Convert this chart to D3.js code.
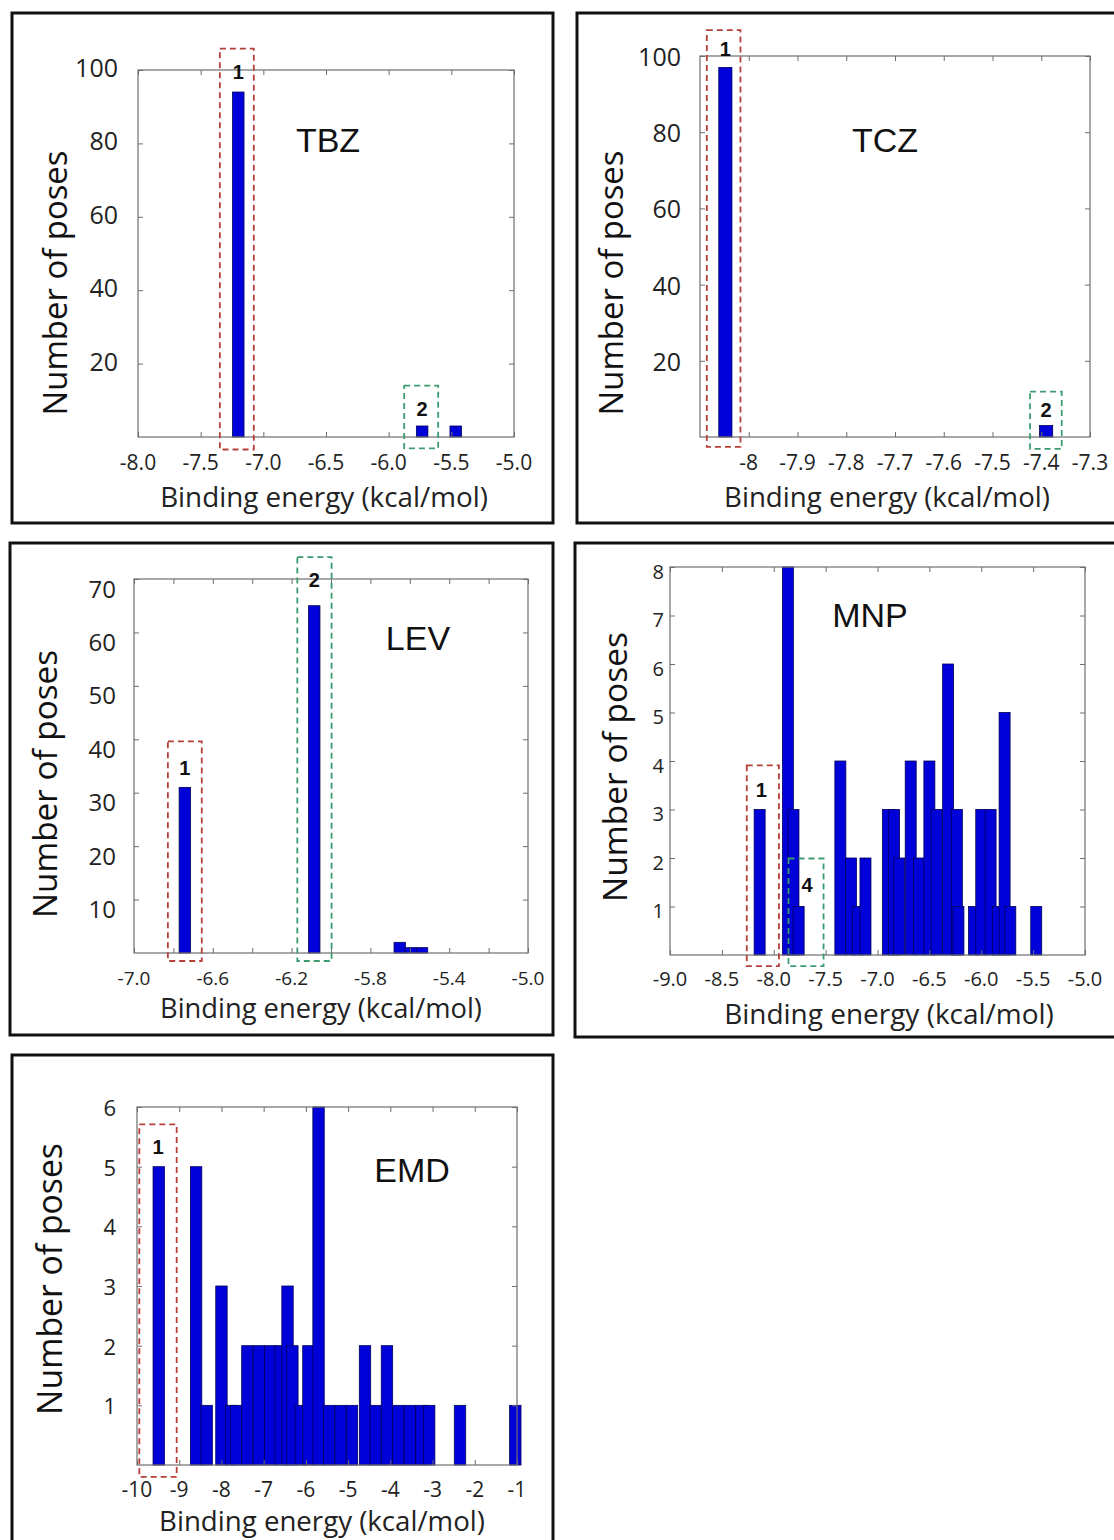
<!DOCTYPE html>
<html><head><meta charset="utf-8">
<script src="https://cdn.jsdelivr.net/npm/d3@7"></script>
<style>html,body{margin:0;padding:0;background:#fff;} svg{display:block;}</style>
</head><body>
<svg id="fig" width="1114" height="1540"></svg>
<script>
// ---------------- data ----------------
const tbzEnergy = [-7.20, -5.733, -5.465];
const tbzCount  = [94, 3, 3];
const tczEnergy = [-8.048, -7.39];
const tczCount  = [97, 3];
const levEnergy = [-6.742, -6.085, -5.651, -5.595, -5.538];
const levCount  = [31, 65, 2, 1, 1];
const mnpEnergy = [-8.136, -7.863, -7.81, -7.76, -7.358, -7.255, -7.19, -7.116, -6.90, -6.84, -6.79, -6.68, -6.60, -6.50, -6.43, -6.32, -6.235, -6.22, -6.07, -6.00, -5.91, -5.84, -5.775, -5.72, -5.47];
const mnpCount  = [3, 8, 3, 1, 4, 2, 1, 2, 3, 3, 2, 4, 2, 4, 3, 6, 3, 1, 1, 3, 3, 1, 5, 1, 1];
const emdEnergy = [-9.485, -8.60, -8.35, -8.00, -7.77, -7.65, -7.385, -7.115, -6.845, -6.60, -6.435, -6.32, -6.12, -5.94, -5.70, -5.45, -5.18, -4.91, -4.60, -4.35, -4.08, -3.81, -3.54, -3.27, -3.08, -2.35, -1.04];
const emdCount  = [5, 5, 1, 3, 1, 1, 2, 2, 2, 2, 3, 2, 1, 2, 6, 1, 1, 1, 2, 1, 2, 1, 1, 1, 1, 1, 1];

const tbzXTicks  = [-8.0, -7.5, -7.0, -6.5, -6.0, -5.5, -5.0];
const tbzXLabels = ["-8.0", "-7.5", "-7.0", "-6.5", "-6.0", "-5.5", "-5.0"];
const tbzYTicks  = [20, 40, 60, 80, 100];
const tczXTicks  = [-8.0, -7.9, -7.8, -7.7, -7.6, -7.5, -7.4, -7.3];
const tczXLabels = ["-8", "-7.9", "-7.8", "-7.7", "-7.6", "-7.5", "-7.4", "-7.3"];
const tczYTicks  = [20, 40, 60, 80, 100];
const levXTicks  = [-7.0, -6.8, -6.6, -6.4, -6.2, -6.0, -5.8, -5.6, -5.4, -5.2, -5.0];
const levXLabels = ["-7.0", "", "-6.6", "", "-6.2", "", "-5.8", "", "-5.4", "", "-5.0"];
const levYTicks  = [10, 20, 30, 40, 50, 60, 70];
const mnpXTicks  = [-9.0, -8.5, -8.0, -7.5, -7.0, -6.5, -6.0, -5.5, -5.0];
const mnpXLabels = ["-9.0", "-8.5", "-8.0", "-7.5", "-7.0", "-6.5", "-6.0", "-5.5", "-5.0"];
const mnpYTicks  = [1, 2, 3, 4, 5, 6, 7, 8];
const emdXTicks  = [-10, -9, -8, -7, -6, -5, -4, -3, -2, -1];
const emdXLabels = ["-10", "-9", "-8", "-7", "-6", "-5", "-4", "-3", "-2", "-1"];
const emdYTicks  = [1, 2, 3, 4, 5, 6];

const titles = ["TBZ", "TCZ", "LEV", "MNP", "EMD"];
const xAxisTitle = "Binding energy (kcal/mol)";
const yAxisTitle = "Number of poses";

// highlighted clusters (label, colour, energy range, count range, label anchor)
const tbzBoxes = [{n:"1", c:"red", x0:-7.347, x1:-7.076, y0:-3.4, y1:105.8, lx:-7.20, ly:99.4},
                  {n:"2", c:"green", x0:-5.876, x1:-5.605, y0:-3.1, y1:14.0, lx:-5.733, ly:7.6}];
const tczBoxes = [{n:"1", c:"red", x0:-8.086, x1:-8.017, y0:-2.6, y1:106.8, lx:-8.048, ly:101.8},
                  {n:"2", c:"green", x0:-7.423, x1:-7.358, y0:-3.1, y1:11.9, lx:-7.39, ly:7.0}];
const levBoxes = [{n:"1", c:"red", x0:-6.828, x1:-6.656, y0:-1.5, y1:39.6, lx:-6.742, ly:34.6},
                  {n:"2", c:"green", x0:-6.171, x1:-5.997, y0:-1.5, y1:74.1, lx:-6.085, ly:69.9}];
const mnpBoxes = [{n:"1", c:"red", x0:-8.26, x1:-7.95, y0:-0.23, y1:3.91, lx:-8.12, ly:3.4},
                  {n:"4", c:"green", x0:-7.858, x1:-7.52, y0:-0.23, y1:1.99, lx:-7.68, ly:1.44}];
const emdBoxes = [{n:"1", c:"red", x0:-9.945, x1:-9.06, y0:-0.2, y1:5.71, lx:-9.5, ly:5.33}];

// ---------------- layout ----------------
const panels = [
  {title:titles[0], energy:tbzEnergy, count:tbzCount, xTicks:tbzXTicks, xLabels:tbzXLabels, yTicks:tbzYTicks, boxes:tbzBoxes,
   frame:[12,13,553,523], plot:[138,70,514,437], xDomain:[-8,-5], yDomain:[0,100], barW:0.092,
   titlePos:[328,140], xLab:[324,496,328], yLab:[54,283,265], xTickY:462, xTickFont:21, yTickX:118, yTickDy:-3, yTickFont:25},
  {title:titles[1], energy:tczEnergy, count:tczCount, xTicks:tczXTicks, xLabels:tczXLabels, yTicks:tczYTicks, boxes:tczBoxes,
   frame:[577,13,1130,523], plot:[700,56,1090,437], xDomain:[-8.1,-7.3], yDomain:[0,100], barW:0.027,
   titlePos:[885,140], xLab:[887,496,326], yLab:[610,283,265], xTickY:462, xTickFont:21, yTickX:681, yTickDy:0, yTickFont:25},
  {title:titles[2], energy:levEnergy, count:levCount, xTicks:levXTicks, xLabels:levXLabels, yTicks:levYTicks, boxes:levBoxes,
   frame:[10,543,553,1035], plot:[134,579,528,953], xDomain:[-7,-5], yDomain:[0,70], barW:0.058,
   titlePos:[418,638], xLab:[321,1007,322], yLab:[44,784,268], xTickY:978, xTickFont:19, yTickX:116, yTickDy:9, yTickFont:24},
  {title:titles[3], energy:mnpEnergy, count:mnpCount, xTicks:mnpXTicks, xLabels:mnpXLabels, yTicks:mnpYTicks, boxes:mnpBoxes,
   frame:[575,543,1130,1037], plot:[670,567,1085,955], xDomain:[-9,-5], yDomain:[0,8], barW:0.106,
   titlePos:[870,615], xLab:[889,1013,330], yLab:[614,767,270], xTickY:978, xTickFont:20, yTickX:664, yTickDy:4, yTickFont:20},
  {title:titles[4], energy:emdEnergy, count:emdCount, xTicks:emdXTicks, xLabels:emdXLabels, yTicks:emdYTicks, boxes:emdBoxes,
   frame:[12,1055,553,1570], plot:[137,1107,517,1465], xDomain:[-10,-1], yDomain:[0,6], barW:0.27,
   titlePos:[412,1170], xLab:[322,1520,326], yLab:[49,1279,272], xTickY:1489, xTickFont:21, yTickX:116, yTickDy:0, yTickFont:22}
];

const BAR_FILL = "#0000d8", BAR_EDGE = "#00005c";
const BOX_COL = {red:"#b5403a", green:"#3c9c70"};
const AXIS_COL = "#6e6e6e";
const LABEL_FONT = "'Open Sans', 'DejaVu Sans', sans-serif";
const TITLE_FONT = "'Liberation Sans', Arial, sans-serif";

const svg = d3.select("#fig");
svg.append("rect").attr("width",1114).attr("height",1540).attr("fill","#fff");

function fitWidth(t, w){
  const L = t.node().getComputedTextLength();
  if (L > 0) t.attr("font-size", parseFloat(t.attr("font-size")) * w / L);
}

panels.forEach(p => {
  const g = svg.append("g");
  const [fx0,fy0,fx1,fy1] = p.frame;
  const [px0,py0,px1,py1] = p.plot;
  const x = d3.scaleLinear().domain(p.xDomain).range([px0,px1]);
  const y = d3.scaleLinear().domain(p.yDomain).range([py1,py0]);

  // bars
  const data = p.energy.map((e,i) => ({e:e, c:p.count[i]}));
  g.append("g").selectAll("rect").data(data).enter().append("rect")
    .attr("x", d => x(d.e - p.barW/2))
    .attr("width", d => x(d.e + p.barW/2) - x(d.e - p.barW/2))
    .attr("y", d => y(d.c))
    .attr("height", d => y(0) - y(d.c))
    .attr("fill", BAR_FILL).attr("stroke", BAR_EDGE).attr("stroke-width", 0.8);

  // axes (inward ticks on all four sides)
  const styleAxis = sel => {
    sel.select(".domain").remove();
    sel.selectAll(".tick line").attr("stroke", AXIS_COL).attr("stroke-width", 1);
    sel.selectAll(".tick text").remove();
  };
  g.append("g").attr("transform", `translate(0,${py1})`)
    .call(d3.axisBottom(x).tickValues(p.xTicks).tickSizeInner(-5).tickSizeOuter(0)).call(styleAxis);
  g.append("g").attr("transform", `translate(0,${py0})`)
    .call(d3.axisTop(x).tickValues(p.xTicks).tickSizeInner(-5).tickSizeOuter(0)).call(styleAxis);
  g.append("g").attr("transform", `translate(${px0},0)`)
    .call(d3.axisLeft(y).tickValues(p.yTicks).tickSizeInner(-5).tickSizeOuter(0)).call(styleAxis);
  g.append("g").attr("transform", `translate(${px1},0)`)
    .call(d3.axisRight(y).tickValues(p.yTicks).tickSizeInner(-5).tickSizeOuter(0)).call(styleAxis);
  g.append("rect").attr("x",px0).attr("y",py0).attr("width",px1-px0).attr("height",py1-py0)
    .attr("fill","none").attr("stroke",AXIS_COL).attr("stroke-width",1.2);

  // tick labels
  g.append("g").selectAll("text").data(p.xTicks.map((v,i)=>({v:v, s:p.xLabels[i]})).filter(d => d.s !== "")).enter().append("text")
    .attr("x", d => x(d.v)).attr("y", p.xTickY)
    .attr("text-anchor","middle").attr("dominant-baseline","central")
    .attr("font-family", LABEL_FONT).attr("font-size", p.xTickFont).attr("fill","#222")
    .text(d => d.s);
  g.append("g").selectAll("text").data(p.yTicks).enter().append("text")
    .attr("x", p.yTickX).attr("y", d => y(d) + p.yTickDy)
    .attr("text-anchor","end").attr("dominant-baseline","central")
    .attr("font-family", LABEL_FONT).attr("font-size", p.yTickFont).attr("fill","#222")
    .text(d => d);

  // highlighted clusters
  p.boxes.forEach(b => {
    g.append("rect").attr("x", x(b.x0)).attr("y", y(b.y1))
      .attr("width", x(b.x1) - x(b.x0)).attr("height", y(b.y0) - y(b.y1))
      .attr("fill","none").attr("stroke", BOX_COL[b.c]).attr("stroke-width", 1.8)
      .attr("stroke-dasharray","6,4");
    g.append("text").attr("x", x(b.lx)).attr("y", y(b.ly))
      .attr("text-anchor","middle").attr("dominant-baseline","central")
      .attr("font-family", TITLE_FONT).attr("font-weight","bold").attr("font-size",20).attr("fill","#111")
      .text(b.n);
  });

  // title
  g.append("text").attr("x", p.titlePos[0]).attr("y", p.titlePos[1])
    .attr("text-anchor","middle").attr("dominant-baseline","central")
    .attr("font-family", TITLE_FONT).attr("font-size", 34).attr("fill","#111")
    .text(p.title);

  // axis titles
  const xt = g.append("text").attr("x", p.xLab[0]).attr("y", p.xLab[1])
    .attr("text-anchor","middle").attr("dominant-baseline","central")
    .attr("font-family", LABEL_FONT).attr("font-size", 23).attr("fill","#222")
    .text(xAxisTitle);
  fitWidth(xt, p.xLab[2]);
  const yt = g.append("text").attr("transform", `translate(${p.yLab[0]},${p.yLab[1]}) rotate(-90)`)
    .attr("text-anchor","middle").attr("dominant-baseline","central")
    .attr("font-family", LABEL_FONT).attr("font-size", 32).attr("fill","#111")
    .text(yAxisTitle);
  fitWidth(yt, p.yLab[2]);

  // panel frame
  g.append("rect").attr("x",fx0).attr("y",fy0).attr("width",fx1-fx0).attr("height",fy1-fy0)
    .attr("fill","none").attr("stroke","#111").attr("stroke-width",3);
});
</script>
</body></html>
